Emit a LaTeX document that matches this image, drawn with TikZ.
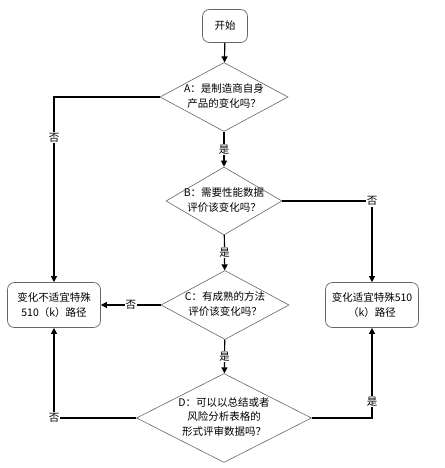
\documentclass[tikz,border=0pt]{standalone}
\usepackage{fontspec}
\setmainfont{Liberation Serif}
\newfontfamily\cjk{Noto Sans CJK SC}
\usetikzlibrary{shapes.geometric,arrows.meta}
\begin{document}
\begin{tikzpicture}[x=1pt,y=-1pt,
  dia/.style={draw=gray!80!black,line width=0.6pt,shape=diamond,inner sep=0pt},
  rbox/.style={draw=gray!80!black,line width=0.7pt,rounded corners=7pt,inner sep=0pt},
  txt/.style={font=\cjk\fontsize{10.5}{14.5}\selectfont,align=center,inner sep=0pt},
  conn/.style={line width=1.2pt,-{Triangle[length=6pt,width=6pt]}},
  lab/.style={font=\cjk\fontsize{10.5}{12}\selectfont,fill=white,inner sep=1pt}]
\useasboundingbox (0,0) rectangle (444,468);
\node[rbox,minimum width=45pt,minimum height=33pt] (S) at (225,26) {};
\node[txt] (St) at (225,26) {开始};
\node[dia,minimum width=128pt,minimum height=69pt] (A) at (224,97) {};
\node[txt] (At) at (224,96) {A：是制造商自身\\产品的变化吗？};
\node[dia,minimum width=116pt,minimum height=68pt] (B) at (224,201) {};
\node[txt] (Bt) at (224,200) {B：需要性能数据\\评价该变化吗？};
\node[dia,minimum width=128pt,minimum height=69pt] (C) at (225,305) {};
\node[txt] (Ct) at (225,304) {C：有成熟的方法\\评价该变化吗？};
\node[dia,minimum width=175pt,minimum height=89pt] (D) at (224,418) {};
\node[txt] (Dt) at (224,417) {D：可以以总结或者\\风险分析表格的\\形式评审数据吗？};
\node[rbox,minimum width=93pt,minimum height=45pt] (L) at (54,305) {};
\node[txt] (Lt) at (54,305) {变化不适宜特殊\\510（k）路径};
\node[rbox,minimum width=93pt,minimum height=45pt] (R) at (372,305) {};
\node[txt] (Rt) at (372,305) {变化适宜特殊510\\（k）路径};
\draw[conn] (S) -- (A);
\draw[conn] (A) -- node[lab]{是} (B);
\draw[conn] (B) -- node[lab]{是} (C);
\draw[conn] (C) -- node[lab]{是} (D);
\draw[conn] (A.west) -| node[lab,pos=0.61]{否} (L.north);
\draw[conn] (C.west) -- node[lab,pos=0.5]{否} (L.east);
\draw[conn] (D.west) -| node[lab,pos=0.5]{否} (L.south);
\draw[conn] (B.east) -| node[lab,pos=0.5]{否} (R.north);
\draw[conn] (D.east) -| node[lab,pos=0.59]{是} (R.south);
\end{tikzpicture}
\end{document}
